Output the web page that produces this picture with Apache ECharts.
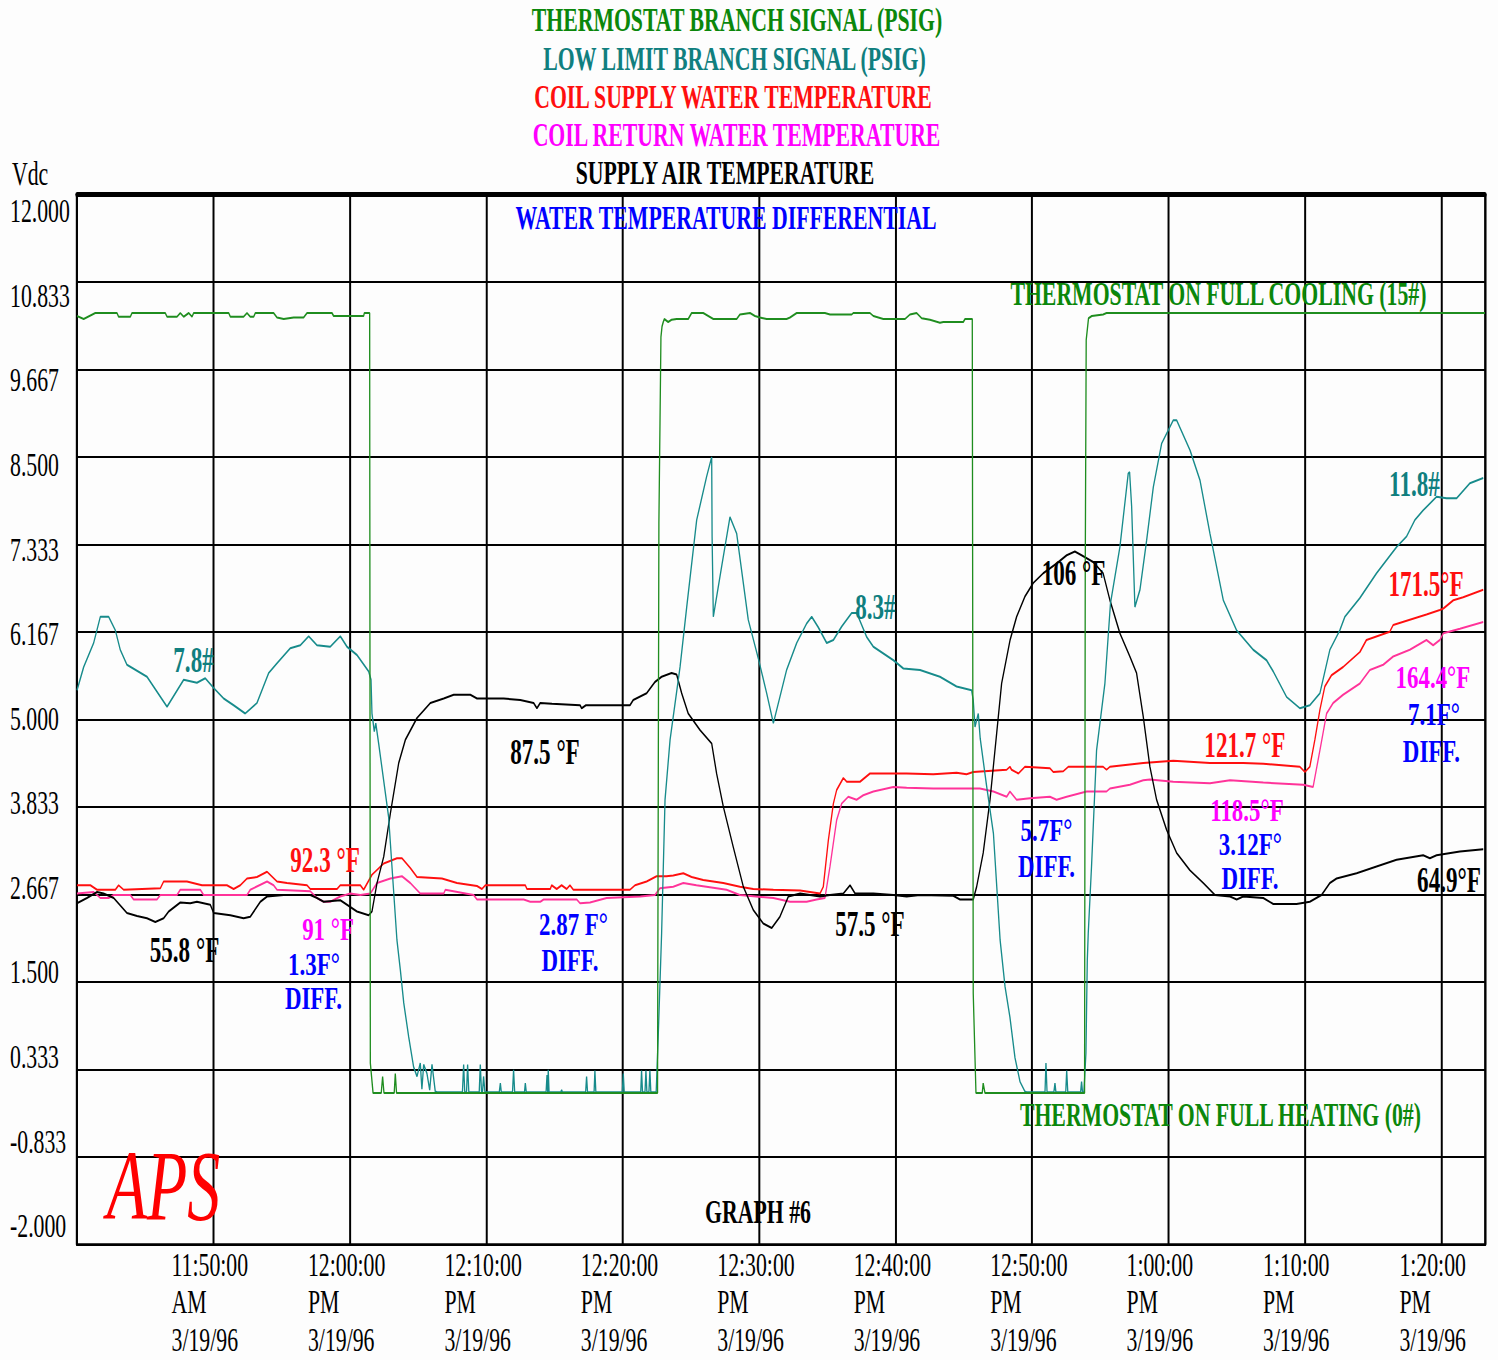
<!DOCTYPE html>
<html>
<head>
<meta charset="utf-8">
<title>GRAPH #6</title>
<script src="https://cdn.jsdelivr.net/npm/echarts@6/dist/echarts.min.js"></script>
<style>
  html, body { margin: 0; padding: 0; background: #fdfdfd; overflow: hidden; }
  #frame { position: relative; width: 1498px; height: 1360px; overflow: hidden; background: #fdfdfd; }
  #chart { position: absolute; left: 0; top: 0; height: 1360px; transform-origin: 0 0; }
</style>
</head>
<body>
<div id="frame"><div id="chart"></div></div>
<script>
// ---------------------------------------------------------------------------
// Recorder data, 3/19/96. x = minutes after 11:40:00 AM, y = Vdc.
// ---------------------------------------------------------------------------

// Thermostat branch signal (0# .. 15#)
const thermostatSignal = [
  [0,10.38],[0.49,10.34],[1.34,10.42],[2.93,10.42],[3.05,10.37],[3.91,10.37],[4.03,10.42],
  [6.47,10.42],[6.6,10.37],[7.33,10.37],[7.57,10.42],[7.82,10.37],[8.19,10.42],[8.43,10.37],
  [8.55,10.42],[11.12,10.42],[11.24,10.37],[12.21,10.37],[12.46,10.42],[12.7,10.37],[12.95,10.37],
  [13.07,10.42],[14.41,10.42],[14.66,10.36],[15.15,10.34],[15.88,10.36],[16.61,10.36],[16.86,10.42],
  [18.69,10.42],[18.81,10.38],[21.01,10.38],[21.06,10.42],[21.45,10.42],
  [21.5,0.42],[21.7,0.02],[22.3,0.02],[22.4,0.24],[22.5,0.02],[23.25,0.02],[23.33,0.28],[23.42,0.02],
  [42.55,0.02],
  [42.65,7.62],[42.8,10.1],[42.88,10.24],[42.97,10.30],[43.05,10.34],[43.33,10.30],[43.58,10.33],
  [43.95,10.34],[44.8,10.34],[45.05,10.42],[45.9,10.42],[46.64,10.34],[48.35,10.34],[48.59,10.40],
  [49.33,10.42],[49.69,10.38],[50.06,10.36],[50.55,10.34],[52.01,10.34],[52.26,10.36],[52.75,10.42],
  [54.82,10.42],[55.19,10.40],[56.78,10.40],[56.9,10.42],[58.12,10.42],[58.37,10.38],[59.1,10.34],
  [60.69,10.34],[61.05,10.40],[61.54,10.42],[61.91,10.35],[62.52,10.33],[63.25,10.29],[63.5,10.30],
  [64.96,10.30],[65.09,10.34],[65.62,10.34],
  [65.69,1.35],[65.89,0.02],[66.35,0.02],[66.42,0.15],[66.55,0.02],[73.85,0.02],
  [73.9,7.0],[73.97,10.06],[74.14,10.35],[74.38,10.38],[75.21,10.40],[75.46,10.42],[103.2,10.42]
];

// Low limit branch signal
const lowLimitSignal = [
  [0,5.39],[0.49,5.70],[1.22,6.02],[1.71,6.37],[2.32,6.37],[2.81,6.19],[3.17,5.93],[3.66,5.73],
  [5.13,5.57],[6.6,5.17],[7.82,5.53],[8.79,5.49],[9.4,5.55],[10.02,5.42],[10.75,5.28],[11.48,5.19],
  [12.33,5.08],[13.19,5.22],[14.05,5.62],[14.66,5.75],[15.63,5.95],[16.37,5.99],[16.98,6.11],
  [17.59,5.99],[18.56,5.97],[19.3,6.11],[19.79,5.97],[20.52,5.86],[21.38,5.64],[21.55,5.53],
  [21.62,5.08],[21.79,4.84],[21.9,4.95],[22.11,4.68],[22.84,3.70],[23.45,2.06],[23.7,1.66],
  [23.95,1.22],[24.31,0.77],[24.67,0.37],[24.92,0.24],[25.16,0.42],[25.28,0.07],[25.41,0.40],
  [25.65,0.28],[25.85,0.06],[26.02,0.40],[26.26,0.04],[26.4,0.03],
  [28.25,0.03],[28.34,0.40],[28.42,0.03],[28.55,0.03],[28.63,0.40],[28.72,0.03],
  [29.48,0.03],[29.56,0.40],[29.65,0.03],[29.72,0.03],[29.8,0.24],[29.9,0.03],
  [30.95,0.03],[31.03,0.15],[31.1,0.03],[31.92,0.03],[32.0,0.33],[32.08,0.03],
  [32.8,0.03],[32.86,0.15],[32.93,0.03],[34.38,0.03],[34.45,0.26],[34.5,0.03],[34.54,0.33],[34.6,0.03],
  [35.46,0.03],[35.52,0.06],[35.58,0.03],[37.28,0.03],[37.35,0.24],[37.42,0.03],
  [37.9,0.03],[37.96,0.32],[38.03,0.03],[39.97,0.03],[40.04,0.28],[40.11,0.03],
  [41.32,0.03],[41.38,0.32],[41.45,0.03],[41.63,0.03],[41.7,0.32],[41.77,0.03],
  [41.92,0.03],[41.99,0.32],[42.06,0.03],[42.45,0.03],
  [42.6,0.77],[42.85,2.15],[43.1,3.93],[43.47,4.73],[44.2,5.70],[44.69,6.50],[45.42,7.66],
  [46.15,8.24],[46.52,8.50],[46.55,7.44],[46.64,6.37],[47.25,7.04],[47.86,7.70],[48.35,7.48],
  [49.2,6.33],[49.97,5.79],[50.55,5.35],[51.04,4.95],[52.01,5.66],[52.75,6.02],[53.48,6.28],
  [53.85,6.37],[54.33,6.23],[54.95,6.02],[55.44,6.06],[56.05,6.24],[56.78,6.42],[57.15,6.42],
  [57.88,6.10],[58.37,5.97],[59.84,5.79],[60.57,5.68],[61.79,5.66],[63.25,5.57],[64.47,5.44],
  [65.57,5.39],[65.69,5.26],[65.82,4.90],[66.06,5.08],[66.2,4.75],[66.68,4.10],[67.17,3.48],
  [67.66,2.06],[68.02,1.44],[68.38,1.03],[68.75,0.49],[69.12,0.17],[69.48,0.04],[69.6,0.03],
  [70.95,0.03],[71.02,0.42],[71.1,0.03],[71.6,0.03],[71.68,0.15],[71.75,0.03],
  [72.47,0.03],[72.54,0.32],[72.62,0.03],[73.56,0.03],[73.63,0.17],[73.7,0.03],[73.8,0.03],
  [73.95,0.55],[74.05,1.79],[74.12,2.15],[74.36,3.04],[74.73,4.59],[75.34,5.48],[75.75,6.55],
  [76.44,7.30],[77.05,8.28],[77.15,8.30],[77.3,7.84],[77.54,6.50],[77.91,6.73],[78.4,7.39],
  [78.89,8.10],[79.5,8.68],[80.35,8.99],[80.6,8.99],[81.58,8.59],[82.31,8.19],[83.04,7.48],
  [84.02,6.59],[84.99,6.19],[86.21,5.93],[87.19,5.79],[87.68,5.64],[88.66,5.30],[89.63,5.15],
  [90.36,5.19],[91.1,5.35],[91.83,5.93],[92.56,6.19],[92.93,6.37],[94.03,6.62],[95.25,6.95],
  [96.72,7.30],[97.45,7.44],[98.06,7.66],[98.67,7.79],[99.65,7.97],[100.38,7.95],[101.12,7.95],
  [102.09,8.15],[103.07,8.22]
];

// Coil supply water temperature
const supplyWaterTemp = [
  [0,2.79],[0.98,2.79],[1.47,2.73],[2.81,2.73],[3.05,2.79],[3.42,2.73],[6.11,2.75],[6.35,2.84],
  [8.06,2.84],[9.16,2.79],[10.99,2.79],[11.48,2.74],[11.97,2.79],[12.46,2.88],[13.19,2.90],
  [13.93,2.97],[14.66,2.84],[15.39,2.82],[16.86,2.79],[17.1,2.74],[19.06,2.74],[19.3,2.79],
  [20.77,2.79],[21.01,2.73],[21.62,2.93],[22.48,3.08],[23.45,3.15],[23.82,3.15],[24.43,3.02],
  [24.92,2.90],[26.75,2.88],[27.85,2.82],[29.32,2.78],[29.68,2.74],[29.93,2.79],[32.86,2.79],
  [32.98,2.74],[34.69,2.74],[34.79,2.79],[35.16,2.74],[35.52,2.79],[35.89,2.74],[36.13,2.79],
  [36.38,2.73],[40.53,2.73],[40.9,2.79],[41.75,2.84],[42.48,2.91],[43.2,2.91],[43.7,2.92],
  [44.44,2.95],[45.05,2.90],[45.9,2.86],[47.37,2.82],[48.59,2.77],[49.57,2.74],[51.04,2.73],
  [53.0,2.72],[54.46,2.68],[54.7,2.77],[55.07,3.39],[55.44,3.88],[55.68,4.06],[56.17,4.22],
  [56.42,4.17],[57.39,4.17],[58.12,4.28],[59.83,4.28],[60.81,4.28],[62.76,4.27],[64.47,4.29],
  [65.2,4.27],[65.69,4.30],[68.14,4.33],[68.38,4.37],[68.5,4.33],[69.0,4.28],[69.48,4.37],
  [71.31,4.35],[71.56,4.30],[72.29,4.31],[72.66,4.37],[75.21,4.37],[75.46,4.33],[75.71,4.37],
  [78.15,4.42],[80.35,4.45],[83.04,4.42],[85.48,4.42],[86.95,4.41],[89.63,4.37],[90.0,4.30],
  [90.36,4.37],[90.73,4.73],[91.1,5.13],[91.46,5.44],[91.95,5.59],[92.8,5.70],[94.03,5.90],
  [94.51,6.06],[96.22,6.17],[96.47,6.26],[97.69,6.33],[98.91,6.40],[99.89,6.46],[100.15,6.48],
  [100.88,6.59],[101.6,6.63],[103.07,6.73]
];

// Coil return water temperature
const returnWaterTemp = [
  [0,2.68],[1.22,2.70],[1.71,2.62],[2.32,2.62],[2.69,2.66],[3.91,2.66],[4.15,2.60],[5.86,2.60],
  [6.11,2.66],[7.33,2.66],[7.57,2.73],[9.04,2.73],[9.28,2.66],[12.46,2.66],[12.7,2.73],
  [13.93,2.84],[14.41,2.79],[14.66,2.73],[17.1,2.71],[17.59,2.62],[18.08,2.57],[18.56,2.57],
  [19.3,2.64],[20.03,2.68],[20.77,2.66],[21.5,2.68],[21.99,2.82],[22.97,2.88],[23.82,2.91],
  [24.43,2.82],[25.16,2.68],[26.88,2.68],[27.0,2.73],[29.07,2.66],[29.32,2.60],[32.74,2.60],
  [33.22,2.57],[33.96,2.57],[34.2,2.60],[36.63,2.60],[36.87,2.55],[37.6,2.56],[38.82,2.62],
  [41.29,2.64],[42.36,2.66],[42.73,2.75],[43.7,2.77],[44.44,2.82],[45.4,2.79],[47.61,2.73],
  [48.59,2.66],[51.04,2.62],[52.26,2.57],[53.48,2.57],[54.21,2.60],[54.82,2.62],[55.19,3.04],
  [55.68,3.66],[56.05,3.88],[56.53,3.97],[57.14,3.93],[57.63,3.99],[58.37,4.04],[59.83,4.10],
  [60.81,4.09],[62.76,4.08],[64.47,4.08],[66.18,4.08],[67.17,4.04],[68.14,3.97],[68.38,4.04],
  [68.87,3.93],[69.85,3.95],[71.31,3.97],[71.8,3.93],[72.54,3.97],[74.0,4.04],[75.46,4.04],
  [75.71,4.08],[77.17,4.13],[78.15,4.19],[78.64,4.20],[80.35,4.17],[83.04,4.15],[84.51,4.19],
  [86.95,4.16],[89.88,4.13],[90.6,4.10],[91.1,4.59],[91.59,5.08],[92.07,5.22],[92.8,5.33],
  [94.03,5.48],[94.76,5.66],[95.74,5.73],[96.47,5.84],[97.69,5.93],[98.91,6.06],[99.4,5.99],
  [99.89,6.06],[100.15,6.15],[101.36,6.21],[103.07,6.30]
];

// Supply air temperature
const supplyAirTemp = [
  [0,2.55],[0.73,2.62],[1.47,2.70],[1.95,2.68],[2.69,2.62],[3.66,2.42],[4.4,2.38],[5.13,2.35],
  [5.74,2.30],[6.35,2.35],[6.72,2.44],[7.57,2.56],[8.3,2.55],[8.79,2.57],[9.77,2.53],[10.02,2.42],
  [11.24,2.39],[12.21,2.35],[12.7,2.37],[13.44,2.57],[13.93,2.64],[15.15,2.66],[17.1,2.66],
  [17.59,2.62],[18.08,2.57],[19.3,2.59],[19.79,2.53],[20.52,2.44],[21.38,2.39],[21.62,2.44],
  [21.99,2.82],[22.48,3.17],[22.97,3.75],[23.58,4.42],[24.07,4.73],[24.92,5.02],[25.9,5.22],
  [26.88,5.28],[27.61,5.33],[28.83,5.33],[29.32,5.28],[31.27,5.28],[32.49,5.26],[33.47,5.22],
  [33.71,5.15],[33.95,5.22],[34.81,5.21],[36.87,5.19],[36.99,5.15],[37.3,5.19],[40.53,5.19],
  [40.77,5.26],[41.75,5.35],[42.36,5.50],[42.85,5.57],[43.58,5.62],[43.95,5.60],[44.32,5.35],
  [44.8,5.08],[45.66,4.86],[46.52,4.68],[46.88,4.28],[47.37,3.84],[48.1,3.30],[48.84,2.77],
  [49.57,2.46],[50.3,2.28],[50.92,2.22],[51.52,2.37],[52.14,2.64],[53.0,2.68],[54.46,2.64],
  [55.19,2.66],[56.17,2.68],[56.66,2.79],[57.03,2.68],[58.37,2.68],[59.84,2.66],[60.81,2.64],
  [61.79,2.66],[64.22,2.65],[64.72,2.60],[65.69,2.60],[65.94,2.77],[66.42,3.22],[66.92,3.93],
  [67.41,4.82],[67.77,5.48],[68.39,6.06],[68.87,6.37],[69.48,6.64],[70.09,6.82],[70.82,6.95],
  [71.8,7.08],[72.54,7.19],[73.14,7.24],[73.63,7.19],[74.48,7.10],[75.21,6.95],[75.71,6.59],
  [76.44,6.15],[77.17,5.84],[77.66,5.62],[78.15,5.04],[78.64,4.37],[79.13,3.93],[79.86,3.53],
  [80.6,3.22],[81.57,2.99],[82.55,2.82],[83.41,2.66],[84.51,2.64],[85.0,2.60],[85.48,2.64],
  [86.95,2.62],[87.68,2.54],[89.39,2.54],[90.36,2.57],[91.22,2.66],[91.83,2.82],[92.32,2.88],
  [93.79,2.95],[95.25,3.04],[96.72,3.13],[98.67,3.19],[99.16,3.15],[99.65,3.19],[101.36,3.24],
  [103.07,3.27]
];

// Axis text
const timeTicks = ['11:50:00','12:00:00','12:10:00','12:20:00','12:30:00','12:40:00','12:50:00','1:00:00','1:10:00','1:20:00'];
const tickMeridiem = ['AM','PM','PM','PM','PM','PM','PM','PM','PM','PM'];
const tickDate = '3/19/96';
const yTickLabels = ['-2.000','-0.833','0.333','1.500','2.667','3.833','5.000','6.167','7.333','8.500','9.667','10.833','12.000'];

// ---------------------------------------------------------------------------
// Layout and styling
// ---------------------------------------------------------------------------
const FONT = '"Liberation Serif", "Times New Roman", serif';
const SX = 0.66;                    // the sheet is printed horizontally condensed
const PAGE_W = 1498, PAGE_H = 1360;
const CHART_W = PAGE_W / SX;
const GRID = { left: 77 / SX, top: 194.5, width: 1408 / SX, height: 1050 };
const X_MAX = 103.2;
// tick labels run on a slightly tighter scale than the grid lines
const LABEL_MIN = -2.255, LABEL_MAX = 12.228;

const GREEN_LINE = '#1f8d1f', GREEN_TXT = '#0b870b';
const TEAL_LINE = '#178b8b', TEAL_TXT = '#107f7f';
const RED = '#ff0f0f', PINK_LINE = '#ff3399', MAGENTA = '#ff00ff', BLUE = '#0000ff', BLACK = '#000000';

const chartEl = document.getElementById('chart');
chartEl.style.width = CHART_W + 'px';
chartEl.style.transform = 'scaleX(' + SX + ')';

const chart = echarts.init(chartEl, null, { renderer: 'svg', width: CHART_W, height: PAGE_H });

function trace(name, data, color) {
  return {
    name, type: 'line', data, xAxisIndex: 0, yAxisIndex: 0,
    showSymbol: false, symbol: 'none', silent: true,
    lineStyle: { color, width: 2 }, itemStyle: { color }
  };
}

const plainAxis = (extra) => Object.assign({
  type: 'value', axisTick: { show: false }, axisLabel: { show: false }, splitLine: { show: false }
}, extra);

chart.setOption({
  animation: false,
  backgroundColor: '#fdfdfd',
  grid: { left: GRID.left, top: GRID.top, width: GRID.width, height: GRID.height, containLabel: false, outerBoundsMode: 'none' },
  xAxis: [
    {
      type: 'value', min: 0, max: X_MAX, interval: 10, position: 'bottom',
      axisLine: { show: true, onZero: false, lineStyle: { color: BLACK, width: 2.5 } },
      axisTick: { show: false },
      splitLine: { show: true, lineStyle: { color: BLACK, width: 3 } },
      axisLabel: {
        showMinLabel: false, showMaxLabel: false, margin: 1.5,
        formatter: (val) => {
          const i = Math.round(val / 10) - 1;
          if (i < 0 || i >= timeTicks.length) return '';
          return '{t|' + timeTicks[i] + '}\n{t|' + tickMeridiem[i] + '}\n{t|' + tickDate + '}';
        },
        rich: { t: { width: 127, align: 'left', fontSize: 33, lineHeight: 37.5, fontFamily: FONT, color: BLACK } }
      }
    },
    plainAxis({ min: 0, max: X_MAX, position: 'top', axisLine: { show: true, onZero: false, lineStyle: { color: BLACK, width: 5 } } })
  ],
  yAxis: [
    {
      type: 'value', min: -2, max: 12, interval: 7 / 6,
      axisLine: { show: true, onZero: false, lineStyle: { color: BLACK, width: 3 } },
      axisTick: { show: false }, axisLabel: { show: false },
      splitLine: { show: true, lineStyle: { color: BLACK, width: 2 } }
    },
    {
      type: 'value', min: LABEL_MIN, max: LABEL_MAX, position: 'left',
      axisLine: { show: false }, axisTick: { show: false }, splitLine: { show: false },
      axisLabel: {
        customValues: yTickLabels.map(Number),
        formatter: (v) => yTickLabels.find(s => Math.abs(Number(s) - v) < 1e-6) || v.toFixed(3),
        align: 'left', margin: 67 / SX, fontSize: 33, fontFamily: FONT, color: BLACK
      }
    },
    plainAxis({ min: -2, max: 12, position: 'right', axisLine: { show: true, onZero: false, lineStyle: { color: BLACK, width: 3 } } })
  ],
  series: [
    trace('COIL RETURN WATER TEMPERATURE', returnWaterTemp, PINK_LINE),
    trace('COIL SUPPLY WATER TEMPERATURE', supplyWaterTemp, RED),
    trace('SUPPLY AIR TEMPERATURE', supplyAirTemp, BLACK),
    trace('LOW LIMIT BRANCH SIGNAL (PSIG)', lowLimitSignal, TEAL_LINE),
    trace('THERMOSTAT BRANCH SIGNAL (PSIG)', thermostatSignal, GREEN_LINE)
  ]
});

// ---------------------------------------------------------------------------
// Header, trace names and call-outs
// ---------------------------------------------------------------------------
// [text, color, centre x, centre y] in page pixels
const header = [
  ['THERMOSTAT BRANCH SIGNAL (PSIG)', GREEN_TXT, 737, 19.5],
  ['LOW LIMIT BRANCH SIGNAL (PSIG)', TEAL_TXT, 734.5, 59],
  ['COIL SUPPLY WATER TEMPERATURE', RED, 733, 96.5],
  ['COIL RETURN WATER TEMPERATURE', MAGENTA, 736.5, 135],
  ['SUPPLY AIR TEMPERATURE', BLACK, 725, 172.5],
  ['WATER TEMPERATURE DIFFERENTIAL', BLUE, 726, 217.5],
  ['GRAPH #6', BLACK, 758, 1212]
];

// [text, color, minute, Vdc, stacked] anchored in plot coordinates;
// stacked call-outs sit in tight columns and use a slightly smaller face
const callouts = [
  ['THERMOSTAT ON FULL COOLING (15#)', GREEN_TXT, 83.66, 10.67],
  ['THERMOSTAT ON FULL HEATING (0#)', GREEN_TXT, 83.81, -0.27],
  ['7.8#', TEAL_TXT, 8.54, 5.79],
  ['8.3#', TEAL_TXT, 58.52, 6.50],
  ['11.8#', TEAL_TXT, 98.03, 8.14],
  ['106 °F', BLACK, 73.04, 6.95],
  ['87.5 °F', BLACK, 34.3, 4.57],
  ['55.8 °F', BLACK, 7.88, 1.93],
  ['57.5 °F', BLACK, 58.12, 2.27],
  ['64.9°F', BLACK, 100.56, 2.86],
  ['92.3 °F', RED, 18.18, 3.13],
  ['121.7 °F', RED, 85.6, 4.66],
  ['171.5°F', RED, 98.88, 6.81],
  ['91 °F', MAGENTA, 18.4, 2.19, true],
  ['1.3F°', BLUE, 17.37, 1.73, true],
  ['DIFF.', BLUE, 17.33, 1.27, true],
  ['2.87 F°', BLUE, 36.39, 2.26, true],
  ['DIFF.', BLUE, 36.13, 1.78, true],
  ['5.7F°', BLUE, 71.06, 3.51, true],
  ['DIFF.', BLUE, 71.06, 3.04, true],
  ['118.5°F', MAGENTA, 85.75, 3.78, true],
  ['3.12F°', BLUE, 86.0, 3.33, true],
  ['DIFF.', BLUE, 85.97, 2.87, true],
  ['164.4°F', MAGENTA, 99.38, 5.55, true],
  ['7.1F°', BLUE, 99.46, 5.06, true],
  ['DIFF.', BLUE, 99.27, 4.57, true]
];

function label(text, color, x, y, size, extra) {
  return Object.assign({
    type: 'text', x, y, silent: true, z: 100,
    style: {
      text, fill: color, font: 'bold ' + size + 'px ' + FONT,
      align: 'center', verticalAlign: 'middle'
    }
  }, extra || {});
}

const graphics = [];
header.forEach(([text, color, cx, cy]) => {
  graphics.push(label(text, color, cx / SX, cy, 33));
});
callouts.forEach(([text, color, t, v, stacked]) => {
  const [px, py] = chart.convertToPixel({ xAxisIndex: 0, yAxisIndex: 0 }, [t, v]);
  if (stacked) {
    graphics.push(label(text, color, px, py, 31, { scaleX: 1.12 }));
  } else {
    graphics.push(label(text, color, px, py, text.length > 20 ? 33 : 35));
  }
});
// axis unit
graphics.push({
  type: 'text', x: 12 / SX, y: 174, silent: true,
  style: { text: 'Vdc', fill: BLACK, font: '33px ' + FONT, align: 'left', verticalAlign: 'middle' }
});
// company mark
graphics.push({
  type: 'text', x: 163.5 / SX, y: 1185, silent: true, z: 100,
  style: { text: 'APS', fill: '#ff0000', font: 'italic 100px ' + FONT, align: 'center', verticalAlign: 'middle' }
});

chart.setOption({ graphic: graphics });
</script>
</body>
</html>
